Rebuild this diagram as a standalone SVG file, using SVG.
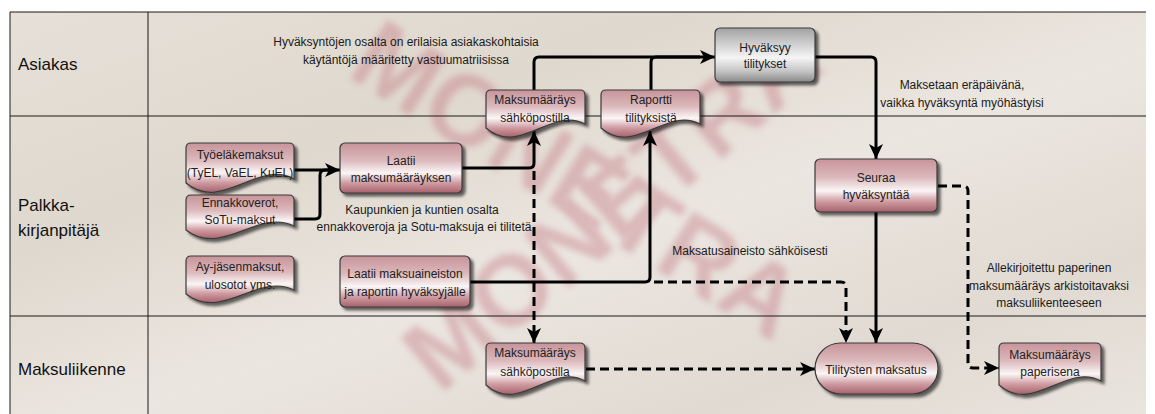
<svg xmlns="http://www.w3.org/2000/svg" width="1155" height="414" viewBox="0 0 1155 414">
  <defs>
    <style>
      .lane { font-family: "Liberation Sans", Arial, sans-serif; font-size: 17px; fill: #111; }
      .lbl { font-family: "Liberation Sans", Arial, sans-serif; font-size: 12px; fill: #222; text-anchor: middle; }
      .note { font-family: "Liberation Sans", Arial, sans-serif; font-size: 12px; fill: #1a1a1a; text-anchor: middle; }
      .grid { stroke: #1a1a1a; stroke-width: 1; fill: none; }
      .pink { fill: url(#gPink); stroke: #3a3a3a; stroke-width: 1.2; filter: url(#shadow); }
      .grey { fill: url(#gGrey); stroke: #3a3a3a; stroke-width: 1.2; filter: url(#shadow); }
      .flow { fill: none; stroke: #000; stroke-width: 3; stroke-linejoin: round; }
      .dash { fill: none; stroke: #000; stroke-width: 3; stroke-dasharray: 9 5; }
      .arrowed { marker-end: url(#ah); }
      .wm { font-family: "Liberation Sans", Arial, sans-serif; font-weight: bold; fill: #c06a78; filter: url(#soft); }
    </style>
    <linearGradient id="gBg" x1="0" y1="0" x2="1" y2="1">
      <stop offset="0" stop-color="#e6e0d8"/>
      <stop offset="0.3" stop-color="#dfd8ce"/>
      <stop offset="0.55" stop-color="#ebe6e0"/>
      <stop offset="0.8" stop-color="#e1dad2"/>
      <stop offset="1" stop-color="#e9e4de"/>
    </linearGradient>
    <linearGradient id="gPink" x1="0" y1="0" x2="0" y2="1">
      <stop offset="0" stop-color="#c7949a"/>
      <stop offset="0.35" stop-color="#dcb9bc"/>
      <stop offset="0.6" stop-color="#fbf6f6"/>
      <stop offset="0.8" stop-color="#cf9ca2"/>
      <stop offset="1" stop-color="#a7626c"/>
    </linearGradient>
    <linearGradient id="gGrey" x1="0" y1="0" x2="0" y2="1">
      <stop offset="0" stop-color="#a2a2a2"/>
      <stop offset="0.55" stop-color="#f5f5f5"/>
      <stop offset="0.8" stop-color="#c4c4c4"/>
      <stop offset="1" stop-color="#8a8a8a"/>
    </linearGradient>
    <filter id="shadow" x="-10%" y="-10%" width="125%" height="135%">
      <feGaussianBlur in="SourceAlpha" stdDeviation="1.5"/>
      <feOffset dx="3" dy="3" result="o"/>
      <feComponentTransfer><feFuncA type="linear" slope="0.6"/></feComponentTransfer>
      <feMerge><feMergeNode/><feMergeNode in="SourceGraphic"/></feMerge>
    </filter>
    <filter id="soft" x="-20%" y="-20%" width="140%" height="140%">
      <feGaussianBlur stdDeviation="3"/>
    </filter>
    <marker id="ah" markerUnits="userSpaceOnUse" markerWidth="16" markerHeight="14" refX="15" refY="7" orient="auto">
      <path d="M0,0 L15,7 L0,14 L4,7 Z" fill="#000"/>
    </marker>
  </defs>

  <!-- backdrop with faded watermark print -->
  <rect x="10" y="12" width="1136" height="402" fill="url(#gBg)"/>
  <g opacity="0.36">
    <text class="wm" font-size="100" transform="translate(345,75) rotate(32)">MONETRA</text>
    <text class="wm" font-size="100" transform="translate(440,395) rotate(-40)">MONETRA</text>
  </g>

  <!-- swimlane grid -->
  <g id="lanes">
    <path class="grid" d="M10,12 H1146 M10,12 V414 M148,12 V414 M10,116 H1146 M10,316 H1146"/>
    <text class="lane" x="18" y="70">Asiakas</text>
    <text class="lane" x="18" y="211">Palkka-</text>
    <text class="lane" x="18" y="236">kirjanpitäjä</text>
    <text class="lane" x="18" y="375">Maksuliikenne</text>
  </g>

  <!-- connectors -->
  <g id="connectors">
    <path class="flow arrowed" d="M294,170 H340"/>
    <path class="flow" d="M294,219 H315 Q320,219 320,214 V175 Q320,170 325,170 H332"/>
    <path class="flow arrowed" d="M462,168 H529 Q534,168 534,163 V131"/>
    <path class="flow arrowed" d="M534,90 V62 Q534,57 539,57 H715"/>
    <path class="flow" d="M651,90 V62 Q651,57 656,57 H700"/>
    <path class="flow arrowed" d="M470,282 H645 Q650,282 650,277 V131"/>
    <path class="dash arrowed" d="M534,171 V343"/>
    <path class="dash arrowed" d="M654,282 H841 Q846,282 846,287 V343"/>
    <path class="flow arrowed" d="M815,57 H871 Q876,57 876,62 V159"/>
    <path class="flow arrowed" d="M876,212 V343"/>
    <path class="dash arrowed" d="M938,186 H963 Q968,186 968,191 V363 Q968,368 973,368 H999"/>
    <path class="dash arrowed" d="M586,369 H815"/>
  </g>

  <!-- inputs (document shapes: wavy lower edge) -->
  <g id="n-tyoelake">
    <path class="pink" d="M191,143 H289 Q294,143 294,148 V179 C258,159 222,213 186,183 V148 Q186,143 191,143 Z"/>
    <text class="lbl" x="240" y="159">Työeläkemaksut</text>
    <text class="lbl" x="240" y="177">(TyEL, VaEL, KuEL)</text>
  </g>
  <g id="n-ennakko">
    <path class="pink" d="M191,195 H289 Q294,195 294,200 V226 C258,208 222,258 186,230 V200 Q186,195 191,195 Z"/>
    <text class="lbl" x="240" y="207">Ennakkoverot,</text>
    <text class="lbl" x="240" y="224">SoTu-maksut</text>
  </g>
  <g id="n-ay">
    <path class="pink" d="M191,256 H289 Q294,256 294,261 V290 C258,272 222,322 186,294 V261 Q186,256 191,256 Z"/>
    <text class="lbl" x="240" y="271">Ay-jäsenmaksut,</text>
    <text class="lbl" x="240" y="289">ulosotot yms.</text>
  </g>

  <!-- payroll tasks -->
  <g id="n-laatii-maarays">
    <rect class="pink" x="340" y="143" width="122" height="50" rx="5"/>
    <text class="lbl" x="401" y="165">Laatii</text>
    <text class="lbl" x="401" y="182">maksumääräyksen</text>
  </g>
  <g id="n-laatii-aineisto">
    <rect class="pink" x="340" y="256" width="130" height="51" rx="5"/>
    <text class="lbl" x="405" y="278">Laatii maksuaineiston</text>
    <text class="lbl" x="405" y="296">ja raportin hyväksyjälle</text>
  </g>

  <!-- documents -->
  <g id="n-maarays-sposti">
    <path class="pink" d="M491,90 H580 Q585,90 585,95 V124 C552,106 519,157 486,128 V95 Q486,90 491,90 Z"/>
    <text class="lbl" x="535" y="104">Maksumääräys</text>
    <text class="lbl" x="535" y="122">sähköpostilla</text>
  </g>
  <g id="n-raportti">
    <path class="pink" d="M606,90 H695 Q700,90 700,95 V124 C667,106 634,157 601,128 V95 Q601,90 606,90 Z"/>
    <text class="lbl" x="651" y="104">Raportti</text>
    <text class="lbl" x="651" y="122">tilityksistä</text>
  </g>

  <!-- client approval -->
  <g id="n-hyvaksyy">
    <rect class="grey" x="715" y="28" width="100" height="54" rx="5"/>
    <text class="lbl" x="765" y="52">Hyväksyy</text>
    <text class="lbl" x="765" y="68">tilitykset</text>
  </g>
  <g id="n-seuraa">
    <rect class="pink" x="815" y="159" width="122" height="53" rx="5"/>
    <text class="lbl" x="876" y="182">Seuraa</text>
    <text class="lbl" x="876" y="199">hyväksyntää</text>
  </g>

  <!-- payment traffic -->
  <g id="n-maarays-sposti-2">
    <path class="pink" d="M491,343 H580 Q585,343 585,348 V381 C552,362 519,415 486,385 V348 Q486,343 491,343 Z"/>
    <text class="lbl" x="535" y="357">Maksumääräys</text>
    <text class="lbl" x="535" y="376">sähköpostilla</text>
  </g>
  <g id="n-maksatus">
    <rect class="pink" x="815" y="343" width="123" height="51" rx="25.5"/>
    <text class="lbl" x="876" y="374">Tilitysten maksatus</text>
  </g>
  <g id="n-paperisena">
    <path class="pink" d="M1004,343 H1096 Q1101,343 1101,348 V381 C1067,362 1033,415 999,385 V348 Q999,343 1004,343 Z"/>
    <text class="lbl" x="1050" y="359">Maksumääräys</text>
    <text class="lbl" x="1050" y="376">paperisena</text>
  </g>

  <!-- annotations -->
  <g id="notes">
    <text class="note" x="406" y="46">Hyväksyntöjen osalta on erilaisia asiakaskohtaisia</text>
    <text class="note" x="406" y="64">käytäntöjä määritetty vastuumatriisissa</text>
    <text class="note" x="962" y="89">Maksetaan eräpäivänä,</text>
    <text class="note" x="962" y="107">vaikka hyväksyntä myöhästyisi</text>
    <text class="note" x="422" y="214">Kaupunkien ja kuntien osalta</text>
    <text class="note" x="424" y="231">ennakkoveroja ja Sotu-maksuja ei tilitetä</text>
    <text class="note" x="750" y="255">Maksatusaineisto sähköisesti</text>
    <text class="note" x="1049" y="272">Allekirjoitettu paperinen</text>
    <text class="note" x="1049" y="290">maksumääräys arkistoitavaksi</text>
    <text class="note" x="1049" y="307">maksuliikenteeseen</text>
  </g>
</svg>
